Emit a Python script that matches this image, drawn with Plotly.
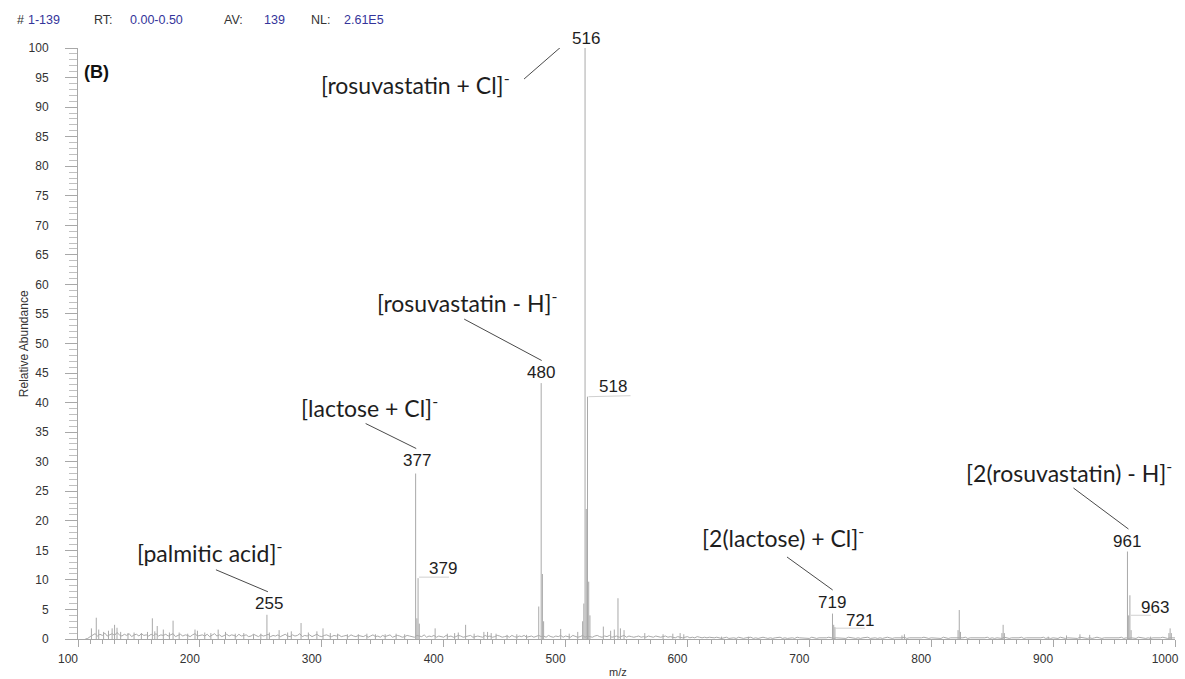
import plotly.graph_objects as go

# ---------------- data ----------------
# scan header (caption, value)
HEADER_KEYS = ["#", "RT:", "AV:", "NL:"]
HEADER_VALUES = ["1-139", "0.00-0.50", "139", "2.61E5"]

# labelled ions: m/z and relative abundance (%)
LABEL_MZ = [255, 377, 379, 480, 516, 518, 719, 721, 961, 963]
LABEL_AB = [4.1, 28.0, 10.3, 43.3, 100.0, 41.0, 4.3, 2.0, 14.8, 7.4]

# ion assignments (m/z of the annotated peak, name)
ION_MZ = [516, 480, 377, 255, 719, 961]
ION_NAMES = [
    "[rosuvastatin + Cl]<sup>-</sup>",
    "[rosuvastatin - H]<sup>-</sup>",
    "[lactose + Cl]<sup>-</sup>",
    "[palmitic acid]<sup>-</sup>",
    "[2(lactose) + Cl]<sup>-</sup>",
    "[2(rosuvastatin) - H]<sup>-</sup>",
]

# other resolved peaks (m/z, relative abundance %)
PEAK_MZ = [111, 115, 117, 121, 125, 128, 130, 132, 135, 141, 146, 152, 157, 161, 163,
           165, 170, 175, 178, 183, 190, 196, 198, 204, 209, 215, 221, 229, 236, 244,
           250, 257, 265, 272, 275, 283, 289, 296, 301, 307, 313, 321, 330, 337, 344,
           352, 361, 368, 378, 380, 393, 403, 409, 412, 418, 425, 433, 436, 439, 443,
           452, 460, 468, 478, 481, 482, 496, 503, 510, 514, 515, 517, 519, 520, 531,
           537, 540, 543, 545, 548, 565, 580, 588, 594, 597, 628, 650, 720, 776, 778,
           822, 823, 824, 858, 859, 860, 896, 911, 922, 930, 962, 964, 980, 995, 996, 997]
PEAK_AB = [1.8, 3.6, 1.6, 1.2, 1.4, 1.8, 2.4, 1.9, 1.2, 1.0, 1.1, 1.0, 1.2, 3.5, 1.3,
           2.2, 1.6, 1.1, 3.1, 1.1, 0.9, 1.6, 1.4, 1.1, 1.0, 1.6, 1.2, 0.9, 1.0, 0.8,
           0.9, 1.1, 1.5, 1.1, 1.3, 2.7, 1.1, 1.3, 1.8, 1.0, 0.9, 0.8, 0.8, 0.9, 0.8,
           0.8, 0.9, 0.8, 3.5, 2.6, 1.8, 0.9, 1.0, 1.1, 2.4, 0.9, 1.2, 1.2, 1.0, 0.9,
           0.7, 0.8, 0.7, 5.5, 11.0, 3.0, 1.7, 0.9, 1.2, 3.0, 6.0, 22.0, 9.7, 4.0, 2.1,
           1.4, 1.6, 6.9, 1.8, 1.5, 1.0, 0.8, 0.9, 1.0, 0.8, 0.4, 0.4, 2.4, 0.6, 0.8,
           1.5, 4.9, 1.2, 1.0, 2.4, 1.0, 0.4, 0.6, 0.8, 0.7, 4.0, 1.5, 0.4, 1.0, 1.8, 1.0]

# baseline noise, one reading every 2 m/z starting at m/z 106, in tenths of a percent
NOISE_START = 106
NOISE = [
    0, 1, 4, 6, 9, 5, 8, 6, 10, 5, 7, 9, 6, 11, 7, 5, 8, 6, 9, 4,
    7, 8, 5, 9, 6, 7, 5, 8, 6, 9, 5, 7, 6, 8, 5, 7, 9, 4, 6, 8,
    5, 7, 6, 4, 7, 9, 5, 6, 7, 5, 8, 4, 6, 9, 5, 7, 4, 6, 8, 5,
    7, 6, 4, 8, 5, 6, 7, 4, 5, 8, 6, 4, 7, 5, 6, 8, 4, 6, 5, 7,
    4, 6, 8, 5, 4, 7, 5, 6, 9, 4, 6, 5, 7, 4, 6, 8, 5, 4, 6, 7,
    5, 4, 6, 5, 7, 4, 5, 6, 4, 7, 5, 4, 6, 5, 4, 6, 3, 5, 7, 4,
    5, 3, 6, 4, 5, 7, 3, 4, 6, 5, 3, 4, 6, 5, 4, 3, 6, 5, 4, 7,
    3, 5, 4, 6, 3, 5, 4, 3, 6, 4, 5, 3, 4, 6, 5, 3, 4, 5, 6, 3,
    4, 5, 4, 3, 6, 4, 5, 3, 4, 6, 5, 3, 4, 5, 3, 6, 4, 3, 5, 4,
    6, 3, 4, 5, 3, 4, 6, 4, 5, 3, 6, 4, 3, 5, 4, 6, 3, 5, 4, 3,
    6, 5, 3, 4, 6, 3, 5, 4, 3, 5, 6, 4, 3, 5, 4, 6, 3, 4, 5, 3,
    4, 6, 3, 5, 4, 3, 4, 5, 3, 4, 3, 5, 4, 3, 5, 4, 3, 4, 5, 3,
    4, 3, 2, 4, 3, 2, 3, 4, 2, 3, 2, 4, 3, 2, 3, 2, 3, 2, 2, 3,
    2, 1, 2, 3, 1, 2, 2, 1, 3, 2, 1, 2, 2, 3, 1, 2, 1, 2, 3, 2,
    1, 2, 1, 2, 2, 3, 1, 2, 1, 2, 2, 1, 3, 2, 2, 1, 2, 1, 3, 2,
    1, 2, 2, 1, 2, 3, 2, 1, 2, 2, 1, 2, 1, 3, 2, 2, 1, 2, 1, 2,
    2, 3, 1, 2, 2, 1, 2, 1, 2, 3, 2, 1, 2, 2, 1, 2, 3, 1, 2, 2,
    1, 2, 1, 2, 3, 2, 1, 2, 2, 1, 2, 1, 3, 2, 1, 2, 2, 1, 2, 1,
    2, 3, 1, 2, 2, 1, 2, 1, 2, 2, 3, 1, 2, 1, 2, 2, 1, 3, 2, 1,
    2, 2, 1, 2, 3, 1, 2, 2, 1, 2, 1, 2, 2, 3, 1, 2, 1, 2, 2, 1,
    3, 2, 1, 2, 2, 1, 2, 1, 3, 2, 2, 1, 2, 1, 2, 3, 2, 1, 2, 2,
    1, 2, 1, 2, 2, 3, 1, 2, 1, 2, 2, 1, 3, 2, 2, 1, 2, 1, 2, 2,
    1, 2, 3, 2, 1, 2, 2, 1, 2, 1, 2, 2, 1, 2, 1, 2, 2, 1, 2, 1,
]

X_TICKS = [100, 200, 300, 400, 500, 600, 700, 800, 900, 1000]
Y_TICKS = list(range(0, 101, 5))

# ---------------- page geometry / styles ----------------
W, H = 1185, 679
ML, MR, MT, MB = 78, 6, 48, 40
PW, PH = W - ML - MR, H - MT - MB

SPEC_COLOR = "#a9a9a9"
AXIS_COLOR = "#a8a8a8"
TEXT_COLOR = "#1e1e1e"
HEAD_BLUE = "#34349a"
ARIAL = "Liberation Sans, Arial, sans-serif"
NAME_FONT = "Lato, Open Sans, sans-serif"


def paper_x(px):
    return (px - ML) / PW


def paper_y(py):
    return (H - MB - py) / PH


# pixel offsets of the peak-number labels from the peak apex (right, up)
NUM_OFFSETS = {516: (1, 10), 518: (25, 10), 480: (0, 11), 377: (1, 13.5),
               379: (25, 10), 255: (2, 11.5), 719: (0, 10.6), 721: (25, 7),
               961: (0, 10), 963: (25, -12.7)}
# pixel offsets of the assignment text centres from the peak apex
NAME_OFFSETS = {516: (-170, -35), 480: (-74, 82), 377: (-46, 67),
                255: (-57, 63), 719: (-49, 77), 961: (-58, 80)}
# leader lines (x0, y0, x1, y1) in pixels from the peak apex, y upward
LEADERS = {516: (-61, -31, -15, 9), 480: (-77, 64, 0.5, 22.6),
           377: (-50, 50, 0.6, 25), 255: (-51, 45, 1, 23),
           719: (-45.5, 56.6, 0.2, 23.6), 961: (-54, 63.5, 1, 22.5)}
# short connectors from isotope peaks to their labels
CONNECTORS = {518: (1, 0, 43, 1), 379: (1, 1, 31, 1),
              721: (0, -1, 30, -1), 963: (1, -20, 21, -20)}

abundance = dict(zip(LABEL_MZ, LABEL_AB))

fig = go.Figure()

# baseline noise trace
noise_x = [NOISE_START + 2 * i for i in range(len(NOISE))]
noise_y = [v / 10 for v in NOISE]
fig.add_trace(go.Scatter(x=noise_x, y=noise_y, mode="lines",
                         line=dict(color=SPEC_COLOR, width=1),
                         hoverinfo="skip", showlegend=False))

# centroid sticks for every resolved peak
stick_x, stick_y = [], []
for mz, ab in list(zip(PEAK_MZ, PEAK_AB)) + list(zip(LABEL_MZ, LABEL_AB)):
    stick_x += [mz, mz, None]
    stick_y += [0, ab, None]
fig.add_trace(go.Scatter(x=stick_x, y=stick_y, mode="lines",
                         line=dict(color=SPEC_COLOR, width=1),
                         hoverinfo="skip", showlegend=False))

annotations = []
shapes = []

# m/z values above the peaks
for mz in LABEL_MZ:
    dx, dy = NUM_OFFSETS[mz]
    annotations.append(dict(x=mz, y=abundance[mz], xref="x", yref="y",
                            text=str(mz), showarrow=False,
                            xanchor="center", yanchor="middle",
                            xshift=dx, yshift=dy,
                            font=dict(family=ARIAL, size=17, color=TEXT_COLOR)))

# ion assignments and their leader lines
for mz, name in zip(ION_MZ, ION_NAMES):
    dx, dy = NAME_OFFSETS[mz]
    annotations.append(dict(x=mz, y=abundance[mz], xref="x", yref="y",
                            text=name, showarrow=False,
                            xanchor="center", yanchor="middle",
                            xshift=dx, yshift=dy,
                            font=dict(family=NAME_FONT, size=23, color=TEXT_COLOR)))
    x0, y0, x1, y1 = LEADERS[mz]
    shapes.append(dict(type="line", xref="x", yref="y",
                       xsizemode="pixel", ysizemode="pixel",
                       xanchor=mz, yanchor=abundance[mz],
                       x0=x0, y0=y0, x1=x1, y1=y1,
                       line=dict(color="#4a4a4a", width=1)))

for mz, (x0, y0, x1, y1) in CONNECTORS.items():
    shapes.append(dict(type="line", xref="x", yref="y",
                       xsizemode="pixel", ysizemode="pixel",
                       xanchor=mz, yanchor=abundance[mz],
                       x0=x0, y0=y0, x1=x1, y1=y1,
                       line=dict(color="#d0d0d0", width=1)))

# scan header line
HEAD_KEY_PX = [15, 92, 223, 310]
HEAD_VAL_PX = [26, 128, 263, 343]
for key, val, kx, vx in zip(HEADER_KEYS, HEADER_VALUES, HEAD_KEY_PX, HEAD_VAL_PX):
    annotations.append(dict(x=paper_x(kx), y=paper_y(20), xref="paper", yref="paper",
                            text=key, showarrow=False, xanchor="left", yanchor="middle",
                            font=dict(family=ARIAL, size=12.5, color="#333333")))
    annotations.append(dict(x=paper_x(vx), y=paper_y(20), xref="paper", yref="paper",
                            text=val, showarrow=False, xanchor="left", yanchor="middle",
                            font=dict(family=ARIAL, size=12.5, color=HEAD_BLUE)))

# panel tag
annotations.append(dict(x=paper_x(82), y=paper_y(72), xref="paper", yref="paper",
                        text="<b>(B)</b>", showarrow=False, xanchor="left", yanchor="middle",
                        font=dict(family=ARIAL, size=18, color="#111111")))

# axis titles
annotations.append(dict(x=paper_x(620), y=paper_y(672), xref="paper", yref="paper",
                        text="m/z", showarrow=False, xanchor="center", yanchor="middle",
                        font=dict(family=ARIAL, size=11, color="#333333")))
annotations.append(dict(x=paper_x(24), y=paper_y(344), xref="paper", yref="paper",
                        text="Relative Abundance", textangle=-90, showarrow=False,
                        xanchor="center", yanchor="middle",
                        font=dict(family=ARIAL, size=12, color="#333333")))

fig.update_layout(
    width=W, height=H,
    margin=dict(l=ML, r=MR, t=MT, b=MB, pad=0),
    paper_bgcolor="white", plot_bgcolor="white",
    showlegend=False,
    annotations=annotations,
    shapes=shapes,
    xaxis=dict(range=[100, 1000], tickvals=X_TICKS, ticktext=[str(v) for v in X_TICKS],
               showline=True, linecolor=AXIS_COLOR, linewidth=1,
               ticks="outside", ticklen=7, tickcolor=AXIS_COLOR, tickwidth=1,
               minor=dict(dtick=10, tick0=100, ticks="outside", ticklen=4,
                          tickcolor=AXIS_COLOR, tickwidth=1, showgrid=False),
               showgrid=False, zeroline=False,
               ticklabelshift=-10, ticklabelstandoff=2,
               tickfont=dict(family=ARIAL, size=12, color="#333333")),
    yaxis=dict(range=[0, 100], tickvals=Y_TICKS, ticktext=[str(v) for v in Y_TICKS],
               showline=True, linecolor=AXIS_COLOR, linewidth=1,
               ticks="outside", ticklen=12, tickcolor=AXIS_COLOR, tickwidth=1,
               minor=dict(dtick=1, tick0=0, ticks="outside", ticklen=8,
                          tickcolor="#c0c0c0", tickwidth=1, showgrid=False),
               showgrid=False, zeroline=False,
               ticklabelstandoff=14,
               tickfont=dict(family=ARIAL, size=12, color="#333333")),
)

fig.write_html("out.html")
